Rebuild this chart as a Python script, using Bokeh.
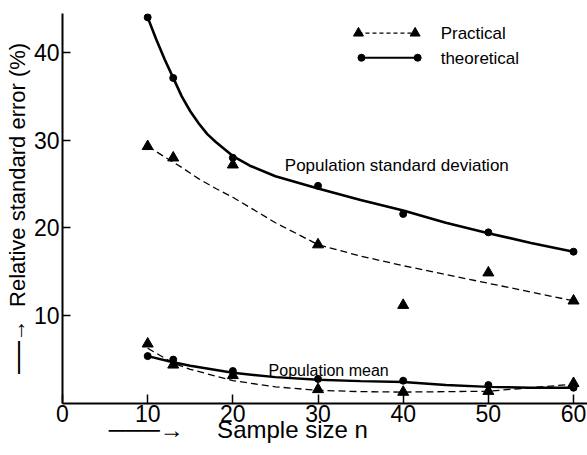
from bokeh.plotting import figure
from bokeh.models import FixedTicker, Label, Range1d
from bokeh.embed import file_html
from bokeh.resources import INLINE

# ---- data ----
n = [10, 13, 20, 30, 40, 50, 60]
sd_theoretical = [44.0, 37.1, 28.0, 24.8, 21.6, 19.5, 17.3]
sd_practical = [29.3, 28.0, 27.2, 18.1, 11.2, 14.9, 11.7]
mean_theoretical = [5.4, 5.0, 3.7, 2.8, 2.6, 2.1, 1.8]
mean_practical = [6.8, 4.4, 3.2, 1.6, 1.3, 1.4, 2.3]

# fitted curves drawn in the reference
sd_theo_curve_n = [10, 11, 12, 13, 14, 15, 16, 17, 18, 20, 22, 25, 30, 35, 40, 45, 50, 55, 60]
sd_theo_curve = [44.0, 41.5, 39.2, 37.1, 35.0, 33.3, 31.9, 30.7, 29.8, 28.2, 27.1, 25.9, 24.5, 23.2, 22.0, 20.6, 19.4, 18.3, 17.3]
sd_prac_curve_n = [10, 12, 13, 14, 16, 18, 20, 25, 30, 35, 40, 45, 50, 55, 60]
sd_prac_curve = [29.3, 28.1, 27.5, 26.9, 25.6, 24.5, 23.5, 20.6, 18.1, 16.8, 15.7, 14.7, 13.7, 12.7, 11.7]
mean_curve_n = [10, 13, 15, 20, 25, 30, 35, 40, 45, 50, 55, 60]
mean_theo_curve = [5.4, 4.7, 4.3, 3.5, 3.0, 2.7, 2.55, 2.45, 2.1, 1.9, 1.8, 1.8]
mean_prac_curve = [6.3, 4.6, 3.9, 2.6, 1.9, 1.5, 1.35, 1.3, 1.35, 1.4, 1.8, 2.2]

x_ticks = [0, 10, 20, 30, 40, 50, 60]
y_ticks = [10, 20, 30, 40]

FONT = "Liberation Sans"
NB = "\u00a0"

p = figure(width=587, height=455, output_backend="svg", toolbar_location=None,
           x_range=Range1d(0, 61.64), y_range=Range1d(0, 44.44),
           min_border_left=62, min_border_right=0, min_border_top=13, min_border_bottom=52)
p.outline_line_color = None
p.grid.visible = False
p.background_fill_color = "white"
p.border_fill_color = "white"

# axes
p.xaxis.ticker = FixedTicker(ticks=x_ticks)
p.yaxis.ticker = FixedTicker(ticks=y_ticks)
for ax in (p.xaxis, p.yaxis):
    ax.axis_line_width = 2
    ax.axis_line_color = "black"
    ax.major_tick_line_color = "black"
    ax.major_tick_line_width = 1.5
    ax.minor_tick_line_color = None
    ax.major_tick_out = 0
    ax.major_label_text_font = FONT
    ax.major_label_text_font_size = "23px"
    ax.major_label_text_color = "black"
    ax.axis_label_text_font = FONT
    ax.axis_label_text_font_style = "normal"
    ax.axis_label_text_color = "black"
p.xaxis.major_tick_in = 9
p.yaxis.major_tick_in = 8
p.xaxis.major_label_standoff = 1
p.yaxis.major_label_standoff = 3

p.yaxis.axis_label = "\u23af\u23af\u23af\u2192" + NB * 2 + "Relative standard error (%)"
p.yaxis.axis_label_text_font_size = "22px"
p.yaxis.axis_label_standoff = 1
p.xaxis.axis_label = "\u2500\u2500\u2500\u2192" + NB * 5 + "Sample size n" + NB * 26
p.xaxis.axis_label_text_font_size = "24px"
p.xaxis.axis_label_standoff = -9

# curves
p.line(sd_theo_curve_n, sd_theo_curve, line_color="black", line_width=2.6)
p.line(sd_prac_curve_n, sd_prac_curve, line_color="black", line_width=1.3, line_dash="7 4")
p.line(mean_curve_n, mean_theo_curve, line_color="black", line_width=2.4)
p.line(mean_curve_n, mean_prac_curve, line_color="black", line_width=1.3, line_dash="7 4")

# points
p.scatter(n, sd_theoretical, marker="circle", size=7, color="black")
p.scatter(n, mean_theoretical, marker="circle", size=7, color="black")
p.scatter(n, sd_practical, marker="triangle", size=11, color="black")
p.scatter(n, mean_practical, marker="triangle", size=11, color="black")

# legend (hand-drawn style)
p.line([34.75, 41.4], [42.2, 42.2], line_color="black", line_width=1.3, line_dash="4 3")
p.scatter([34.75, 41.4], [42.2, 42.2], marker="triangle", size=10, color="black")
p.line([35.1, 41.7], [39.4, 39.4], line_color="black", line_width=2)
p.scatter([35.1, 41.7], [39.4, 39.4], marker="circle", size=7, color="black")
p.add_layout(Label(x=44.4, y=42.2, text="Practical", text_font=FONT,
                   text_font_size="17px", text_baseline="middle", text_color="black"))
p.add_layout(Label(x=44.4, y=39.3, text="theoretical", text_font=FONT,
                   text_font_size="17px", text_baseline="middle", text_color="black"))

# annotations
p.add_layout(Label(x=26.1, y=27.1, text="Population standard deviation", text_font=FONT,
                   text_font_size="17px", text_baseline="middle", text_color="black"))
p.add_layout(Label(x=24.2, y=3.8, text="Population mean", text_font=FONT,
                   text_font_size="16px", text_baseline="middle", text_color="black"))

open("out.html", "w").write(file_html(p, INLINE))
